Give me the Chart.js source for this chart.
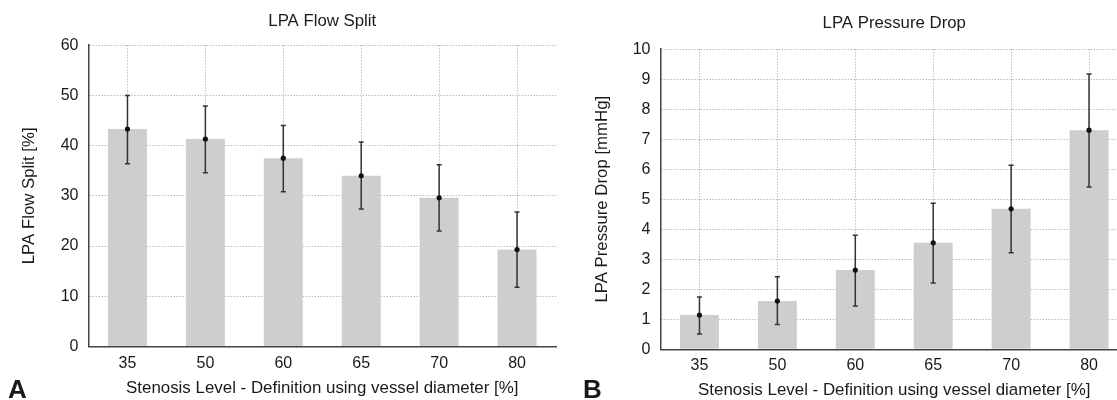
<!DOCTYPE html>
<html>
<head>
<meta charset="utf-8">
<script src="https://cdn.jsdelivr.net/npm/chart.js@4/dist/chart.umd.min.js"></script>
<style>
  html, body { margin: 0; padding: 0; background: #fff; }
  #wrap { position: relative; width: 1117px; height: 400px; overflow: hidden; }
  canvas { position: absolute; top: 0; }
  .panel-tag { position: absolute; font: bold 26px "Liberation Sans", Arial, sans-serif; color: #1a1a1a; line-height: 26px; }
</style>
</head>
<body>
<div id="wrap">
  <canvas id="flowChart" width="572" height="400" style="left:0"></canvas>
  <canvas id="pressureChart" width="572" height="400" style="left:572px"></canvas>
  <div class="panel-tag" style="left:8px; top:376px">A</div>
  <div class="panel-tag" style="left:583px; top:376px">B</div>
</div>
<script>
const categories = ["35", "50", "60", "65", "70", "80"];

// LPA flow split [%]
const flowSplit = [43.3, 41.3, 37.5, 34.0, 29.6, 19.3];
const flowSplitLow = [36.4, 34.6, 30.8, 27.4, 23.0, 11.8];
const flowSplitHigh = [50.0, 47.9, 44.0, 40.7, 36.2, 26.8];

// LPA pressure drop [mmHg]
const pressureDrop = [1.14, 1.61, 2.64, 3.55, 4.68, 7.30];
const pressureDropLow = [0.51, 0.83, 1.44, 2.21, 3.22, 5.41];
const pressureDropHigh = [1.74, 2.42, 3.80, 4.87, 6.13, 9.17];

const xTitle = "Stenosis Level - Definition using vessel diameter [%]";

Chart.defaults.font.family = '"Liberation Sans", Arial, sans-serif';
Chart.defaults.color = "#1a1a1a";

// whiskers drawn right after the bars, so the mean dots land on top
const errorBars = {
  id: "errorBars",
  afterDatasetDraw(chart, args) {
    if (args.index !== 0) return;
    const ds = chart.data.datasets[0];
    const { ctx, scales: { x, y } } = chart;
    ctx.save();
    ctx.strokeStyle = "#333";
    ctx.lineWidth = 1.5;
    ds.errLow.forEach((lo, i) => {
      const px = x.getPixelForValue(i);
      const yLo = y.getPixelForValue(lo);
      const yHi = y.getPixelForValue(ds.errHigh[i]);
      ctx.beginPath();
      ctx.moveTo(px, yLo);
      ctx.lineTo(px, yHi);
      ctx.moveTo(px - 2.5, yLo);
      ctx.lineTo(px + 2.5, yLo);
      ctx.moveTo(px - 2.5, yHi);
      ctx.lineTo(px + 2.5, yHi);
      ctx.stroke();
    });
    ctx.restore();
  },
};

function makePanel(id, p) {
  new Chart(document.getElementById(id), {
    type: "bar",
    data: {
      labels: categories,
      datasets: [
        {
          data: p.values,
          errLow: p.low,
          errHigh: p.high,
          backgroundColor: "#cdced0",
          barPercentage: 0.5,
          categoryPercentage: 1.0,
          order: 2,
        },
        {
          type: "line",
          data: p.values,
          showLine: false,
          pointRadius: 2.6,
          pointBackgroundColor: "#111",
          pointBorderWidth: 0,
          order: 1,
        },
      ],
    },
    options: {
      responsive: false,
      animation: false,
      layout: { padding: { left: 0, right: 16, top: 0, bottom: 0 } },
      plugins: {
        legend: { display: false },
        tooltip: { enabled: false },
        title: {
          display: true,
          text: p.title,
          fullSize: false,
          font: { size: 16.8, weight: "normal" },
          padding: { top: p.titleTop, bottom: p.titleBottom },
        },
      },
      scales: {
        x: {
          grid: { color: "#bdbdbd", offset: false, drawTicks: false },
          border: { color: "#444", width: 1.5, dash: [1.5, 1.5] },
          ticks: { font: { size: 16 }, padding: p.xTickPad },
          title: {
            display: true,
            text: xTitle,
            font: { size: 16.9 },
            padding: { top: 0, bottom: p.xTitleBottom },
          },
          afterFit(scale) {
            scale.height = p.xHeight;
          },
        },
        y: {
          min: 0,
          max: p.max,
          grid: { color: "#bdbdbd", drawTicks: false },
          border: { color: "#444", width: 1.5, dash: [1.5, 1.5] },
          ticks: { stepSize: p.step, font: { size: 16 }, padding: 10 },
          title: {
            display: true,
            text: p.yTitle,
            font: { size: 16.8 },
            padding: { top: p.yTitleTop, bottom: 0 },
          },
          afterFit(scale) {
            scale.width = 88.5;
          },
        },
      },
    },
    plugins: [errorBars],
  });
}

makePanel("flowChart", {
  title: "LPA Flow Split",
  yTitle: "LPA Flow Split [%]",
  values: flowSplit,
  low: flowSplitLow,
  high: flowSplitHigh,
  max: 60,
  step: 10,
  titleTop: 11,
  titleBottom: 14,
  xHeight: 53.5,
  xTickPad: 7,
  xTitleBottom: 2,
  yTitleTop: 19,
});

makePanel("pressureChart", {
  title: "LPA Pressure Drop",
  yTitle: "LPA Pressure Drop [mmHg]",
  values: pressureDrop,
  low: pressureDropLow,
  high: pressureDropHigh,
  max: 10,
  step: 1,
  titleTop: 13,
  titleBottom: 16,
  xHeight: 50.7,
  xTickPad: 7,
  xTitleBottom: 0,
  yTitleTop: 20,
});
</script>
</body>
</html>
